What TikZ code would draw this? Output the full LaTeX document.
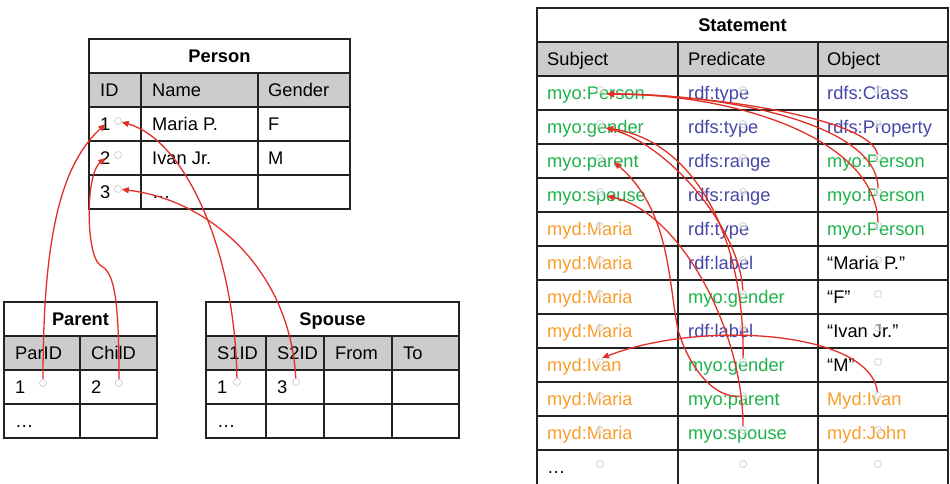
\documentclass[tikz,border=0pt]{standalone}
\usepackage{fontspec}
\setmainfont{Liberation Sans}
\usetikzlibrary{arrows.meta}
\definecolor{myog}{RGB}{30,178,75}
\definecolor{rdfb}{RGB}{70,70,168}
\definecolor{mydo}{RGB}{247,158,45}
\definecolor{arrc}{RGB}{226,48,38}
\definecolor{hdr}{RGB}{204,204,204}
\definecolor{gridc}{RGB}{34,34,34}
\definecolor{magc}{RGB}{200,200,200}
\newcommand\StRow[7]{%
  \pgfmathsetmacro\ry{93+34*(#1-1)+6.5}%
  \node[txt,text=#2] (s#1) at (547,\ry) {#3};
  \node[txt,text=#4] (p#1) at (688,\ry) {#5};
  \node[txt,text=#6] (o#1) at (827,\ry) {#7};
}
\begin{document}
\begin{tikzpicture}[x=1pt,y=-1pt,
  txt/.style={anchor=base west,inner sep=0pt,font=\fontsize{18.3}{21}\selectfont},
  ttl/.style={anchor=base,inner sep=0pt,font=\fontsize{18.3}{21}\selectfont\bfseries},
  gridl/.style={draw=gridc,line width=1.5pt},
  mag/.style={circle,draw=magc,line width=0.6pt,fill=white,fill opacity=0.5,inner sep=0pt,minimum size=7pt},
  arr/.style={draw=arrc,line width=1.3pt,-{Triangle[length=7pt,width=6pt]}}]
\useasboundingbox (0,0) rectangle (950,483);
% ---------- Person ----------
\fill[hdr] (89,73) rectangle (350,107);
\draw[gridl] (89,39) rectangle (350,209);
\foreach \yy in {73,107,141,175} \draw[gridl] (89,\yy) -- (350,\yy);
\foreach \xx in {141,258} \draw[gridl] (\xx,73) -- (\xx,209);
\node[ttl] (ptitle) at (219.5,62.5) {Person};
\node[txt] (ph1) at (100,96.5) {ID};
\node[txt] (ph2) at (152,96.5) {Name};
\node[txt] (ph3) at (268,96.5) {Gender};
\node[txt] (pid1) at (100,130.5) {1};
\node[txt] (pn1) at (152,130.5) {Maria P.};
\node[txt] (pg1) at (268,130.5) {F};
\node[txt] (pid2) at (100,164.5) {2};
\node[txt] (pn2) at (152,164.5) {Ivan Jr.};
\node[txt] (pg2) at (268,164.5) {M};
\node[txt] (pid3) at (100,198.5) {3};
\node[txt] (pn3) at (152,198.5) {…};
% ---------- Parent ----------
\fill[hdr] (4,336) rectangle (157,370);
\draw[gridl] (4,302) rectangle (157,438);
\foreach \yy in {336,370,404} \draw[gridl] (4,\yy) -- (157,\yy);
\draw[gridl] (80,336) -- (80,438);
\node[ttl] (patitle) at (80.5,325.5) {Parent};
\node[txt] (pah1) at (15,359.5) {ParID};
\node[txt] (pah2) at (91,359.5) {ChilD};
\node[txt] (pa11) at (15,393.5) {1};
\node[txt] (pa12) at (91,393.5) {2};
\node[txt] (pa21) at (15,427.5) {…};
% ---------- Spouse ----------
\fill[hdr] (206,336) rectangle (459,370);
\draw[gridl] (206,302) rectangle (459,438);
\foreach \yy in {336,370,404} \draw[gridl] (206,\yy) -- (459,\yy);
\foreach \xx in {266,324,392} \draw[gridl] (\xx,336) -- (\xx,438);
\node[ttl] (sptitle) at (332.5,325.5) {Spouse};
\node[txt] (sph1) at (217,359.5) {S1ID};
\node[txt] (sph2) at (277,359.5) {S2ID};
\node[txt] (sph3) at (335,359.5) {From};
\node[txt] (sph4) at (403,359.5) {To};
\node[txt] (sp11) at (217,393.5) {1};
\node[txt] (sp12) at (277,393.5) {3};
\node[txt] (sp21) at (217,427.5) {…};
% ---------- Statement ----------
\fill[hdr] (537,42) rectangle (948,76);
\draw[gridl] (537,495) -- (537,8) -- (948,8) -- (948,495);
\foreach \yy in {42,76,110,144,178,212,246,280,314,348,382,416,450} \draw[gridl] (537,\yy) -- (948,\yy);
\foreach \xx in {678,818} \draw[gridl] (\xx,42) -- (\xx,495);
\node[ttl] (sttitle) at (742.5,31.5) {Statement};
\node[txt] (sth1) at (547,65.5) {Subject};
\node[txt] (sth2) at (688,65.5) {Predicate};
\node[txt] (sth3) at (827,65.5) {Object};
\StRow{1}{myog}{myo:Person}{rdfb}{rdf:type}{rdfb}{rdfs:Class}
\StRow{2}{myog}{myo:gender}{rdfb}{rdfs:type}{rdfb}{rdfs:Property}
\StRow{3}{myog}{myo:parent}{rdfb}{rdfs:range}{myog}{myo:Person}
\StRow{4}{myog}{myo:spouse}{rdfb}{rdfs:range}{myog}{myo:Person}
\StRow{5}{mydo}{myd:Maria}{rdfb}{rdf:type}{myog}{myo:Person}
\StRow{6}{mydo}{myd:Maria}{rdfb}{rdf:label}{black}{“Maria P.”}
\StRow{7}{mydo}{myd:Maria}{myog}{myo:gender}{black}{“F”}
\StRow{8}{mydo}{myd:Maria}{rdfb}{rdf:label}{black}{“Ivan Jr.”}
\StRow{9}{mydo}{myd:Ivan}{myog}{myo:gender}{black}{“M”}
\StRow{10}{mydo}{myd:Maria}{myog}{myo:parent}{mydo}{Myd:Ivan}
\StRow{11}{mydo}{myd:Maria}{myog}{myo:spouse}{mydo}{myd:John}
\node[txt] (s12) at (547,473.5) {…};
% ---------- magnets ----------
\node[mag] (pm1) at (118,121) {};
\node[mag] (pm2) at (118,155) {};
\node[mag] (pm3) at (118,189) {};
\node[mag] (pam1) at (43,383) {};
\node[mag] (pam2) at (119,383) {};
\node[mag] (spm1) at (237,382) {};
\node[mag] (spm2) at (296,382) {};
\foreach \r in {1,...,12}
  \foreach \cx/\cn in {600/s,743/p,878/o}
    \node[mag] (m\cn\r) at (\cx,{93+34*(\r-1)-3}) {};
% ---------- arrows ----------
\draw[arr] (pam1) .. controls (43,230) and (63,163) .. (pid1.center);
\draw[arr] (pam2) .. controls (119,285) and (112,272) .. (100,265) .. controls (86,255) and (85,175) .. (pid2.center);
\draw[arr] (spm1) .. controls (235,250) and (185,140) .. (pm1);
\draw[arr] (spm2) .. controls (290,270) and (210,200) .. (pm3);
\coordinate (t1) at (607,94);
\coordinate (t2) at (606,128);
\coordinate (t3) at (614,162);
\coordinate (t4) at (607,196);
\coordinate (t9) at (602,358);
\draw[arr] (mo3) .. controls (872,120) and (720,95) .. (t1);
\draw[arr] (mo4) .. controls (878,125) and (730,94) .. (t1);
\draw[arr] (mo5) .. controls (876,140) and (740,94) .. (t1);
\draw[arr] (mp7) .. controls (740,230) and (670,145) .. (t2);
\draw[arr] (mp9) .. controls (745,230) and (690,140) .. (t2);
\draw[arr] (mp10) .. controls (715,398) and (690,370) .. (678,330) .. controls (668,280) and (670,210) .. (t3);
\draw[arr] (mp11) .. controls (743,330) and (680,212) .. (t4);
\draw[arr] (mo10) .. controls (870,330) and (700,320) .. (t9);
\end{tikzpicture}
\end{document}
